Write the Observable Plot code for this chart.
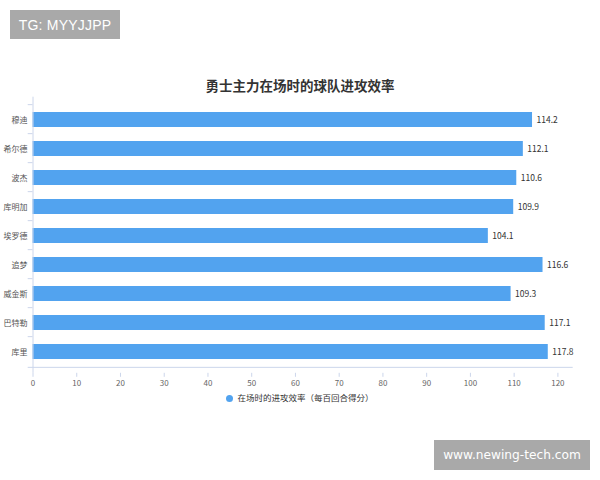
<!DOCTYPE html>
<html>
<head>
<meta charset="utf-8">
<script src="https://cdn.jsdelivr.net/npm/d3@7"></script>
<script src="https://cdn.jsdelivr.net/npm/@observablehq/plot@0.6"></script>
<style>
  html, body { margin: 0; padding: 0; background: #fff; }
  #wrap { position: relative; width: 600px; height: 480px; overflow: hidden; font-family: "Noto Sans CJK SC", "Noto Sans", sans-serif; }
  #wrap svg { position: absolute; left: 0; top: 0; }
  .wm { position: absolute; background: #a9a9a9; color: #fff; display: flex; align-items: center; justify-content: center; }
  #wm1 { left: 10px; top: 10px; width: 110px; height: 29px; font: 14px "Liberation Sans", Arial, sans-serif; letter-spacing: 0.2px; }
  #wm2 { left: 434px; top: 440px; width: 156px; height: 30px; font: 12.2px "DejaVu Sans", sans-serif; }
  #title { position: absolute; left: 0; width: 600px; top: 76px; text-align: center; font-size: 13.5px; font-weight: 700; color: #333; line-height: 18px; }
  #legend { position: absolute; left: 0; width: 600px; top: 390px; text-align: center; font-size: 8.5px; color: #333; line-height: 14px; }
  #legend .dot { display: inline-block; width: 7px; height: 7px; border-radius: 50%; background: #52a3ef; margin-right: 4px; vertical-align: -0.5px; }
</style>
</head>
<body>
<div id="wrap">
  <div id="title">勇士主力在场时的球队进攻效率</div>
  <div id="legend"><span class="dot"></span>在场时的进攻效率（每百回合得分）</div>
  <div class="wm" id="wm1">TG: MYYJJPP</div>
  <div class="wm" id="wm2">www.newing-tech.com</div>
</div>
<script>
const players = ["穆迪", "希尔德", "波杰", "库明加", "埃罗德", "追梦", "威金斯", "巴特勒", "库里"];
const ratings = [114.2, 112.1, 110.6, 109.9, 104.1, 116.6, 109.3, 117.1, 117.8];
const xTicks = [0, 10, 20, 30, 40, 50, 60, 70, 80, 90, 100, 110, 120];

const data = players.map((p, i) => ({player: p, value: ratings[i]}));
const barColor = "#52a3ef";
const axisColor = "#ccd6eb";
const xMax = 123.5;

const chart = Plot.plot({
  width: 600,
  height: 480,
  marginLeft: 32.5,
  marginRight: 27.3,
  marginTop: 96.7,
  marginBottom: 107.2,
  style: {fontFamily: '"Noto Sans CJK SC", "Noto Sans", sans-serif', background: "transparent"},
  x: {domain: [0, xMax]},
  y: {domain: players, padding: 0.5},
  marks: [
    Plot.barX(data, {x: "value", y: "player", fill: barColor}),
    Plot.text(data, {x: "value", y: "player", text: d => d.value.toFixed(1), textAnchor: "start", dx: 4, fontSize: 8.5, fill: "#333"}),
    // category axis line
    Plot.ruleX([0], {stroke: axisColor, strokeWidth: 1}),
    // category boundary ticks (top of each band)
    Plot.ruleY(players, {y: d => d, dy: -15.35, x1: -1.1, x2: 0, stroke: axisColor}),
    // value axis line along the bottom of the last band, with its boundary tick
    Plot.ruleY(players.slice(-1), {y: d => d, dy: 15.35, x1: -1.1, x2: xMax, stroke: axisColor}),
    Plot.axisX({ticks: xTicks, tickSize: 4, tickPadding: 3, stroke: axisColor, fill: "#666", fontSize: 8, label: null, tickFormat: d => d}),
    Plot.axisY({tickSize: 0, tickPadding: 5.5, fill: "#555", fontSize: 8, label: null})
  ]
});
document.getElementById("wrap").prepend(chart);
</script>
</body>
</html>
